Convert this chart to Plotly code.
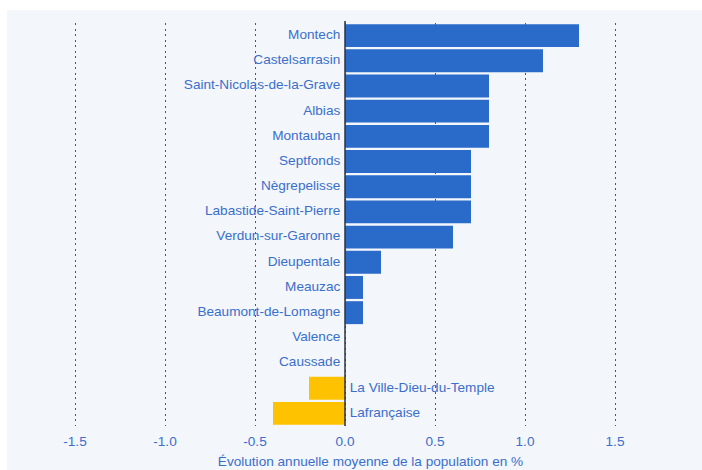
import plotly.graph_objects as go

communes = ["Montech", "Castelsarrasin", "Saint-Nicolas-de-la-Grave", "Albias", "Montauban",
            "Septfonds", "Nègrepelisse", "Labastide-Saint-Pierre", "Verdun-sur-Garonne",
            "Dieupentale", "Meauzac", "Beaumont-de-Lomagne", "Valence", "Caussade",
            "La Ville-Dieu-du-Temple", "Lafrançaise"]
evolution = [1.3, 1.1, 0.8, 0.8, 0.8, 0.7, 0.7, 0.7, 0.6, 0.2, 0.1, 0.1, 0.0, 0.0, -0.2, -0.4]
tick_vals = [-1.5, -1.0, -0.5, 0.0, 0.5, 1.0, 1.5]
tick_text = ["-1.5", "-1.0", "-0.5", "0.0", "0.5", "1.0", "1.5"]
axis_title = "Évolution annuelle moyenne de la population en %"

BLUE = "#2a6bc9"
YELLOW = "#ffc200"
TEXT = "#3a6fcb"
PANEL = "#f3f6fb"
FONT = "Liberation Sans, Arial, sans-serif"
FS = 13.6

W, H = 702, 470
L, R, T, B = 39, 0, 23, 44
pw = W - L - R
ph = H - T - B
px_per_unit = 180.0
xmin = -1.7
xmax = xmin + pw / px_per_unit

bar_colors = [BLUE if v >= 0 else YELLOW for v in evolution]
text_pos = ["middle left" if v >= 0 else "middle right" for v in evolution]

fig = go.Figure()
fig.add_trace(go.Bar(
    x=evolution, y=communes, orientation="h",
    marker=dict(color=bar_colors, line=dict(width=0)),
    hoverinfo="skip",
))
fig.add_trace(go.Scatter(
    x=[0] * len(communes), y=communes, mode="markers+text",
    marker=dict(size=6, color="rgba(0,0,0,0)"),
    text=communes, textposition=text_pos,
    textfont=dict(family=FONT, size=FS, color=TEXT),
    hoverinfo="skip", cliponaxis=False,
))

# panel background (white strip at top/left)
fig.add_shape(type="rect", xref="paper", yref="paper", layer="below",
              x0=(7 - L) / pw, x1=1.0, y0=-B / ph, y1=1 + (T - 10) / ph,
              fillcolor=PANEL, line=dict(width=0))
# zero line on top
fig.add_shape(type="line", xref="x", yref="paper", layer="above",
              x0=0, x1=0, y0=0, y1=1.005, line=dict(color="#2b3240", width=1.5))

fig.update_layout(
    width=W, height=H,
    margin=dict(l=L, r=R, t=T, b=B, pad=0, autoexpand=False),
    paper_bgcolor="white", plot_bgcolor=PANEL,
    showlegend=False, bargap=0.09,
    font=dict(family=FONT, size=FS, color=TEXT),
    xaxis=dict(range=[xmin, xmax], tickvals=tick_vals, ticktext=tick_text,
               showgrid=True, gridcolor="#555555", griddash="2px,3.5px", gridwidth=1.3,
               zeroline=False, showline=False, ticks="outside", ticklen=3,
               tickcolor="rgba(0,0,0,0)", automargin=False,
               tickfont=dict(family=FONT, size=FS, color=TEXT),
               title=dict(text=axis_title, standoff=8,
                          font=dict(family=FONT, size=FS, color=TEXT))),
    yaxis=dict(range=[len(communes) - 0.5, -0.5], showticklabels=False, showgrid=False,
               zeroline=False, showline=False, ticks=""),
)

fig.write_html("out.html", config={"displayModeBar": False},
               post_script="document.body.style.margin='0px';")
